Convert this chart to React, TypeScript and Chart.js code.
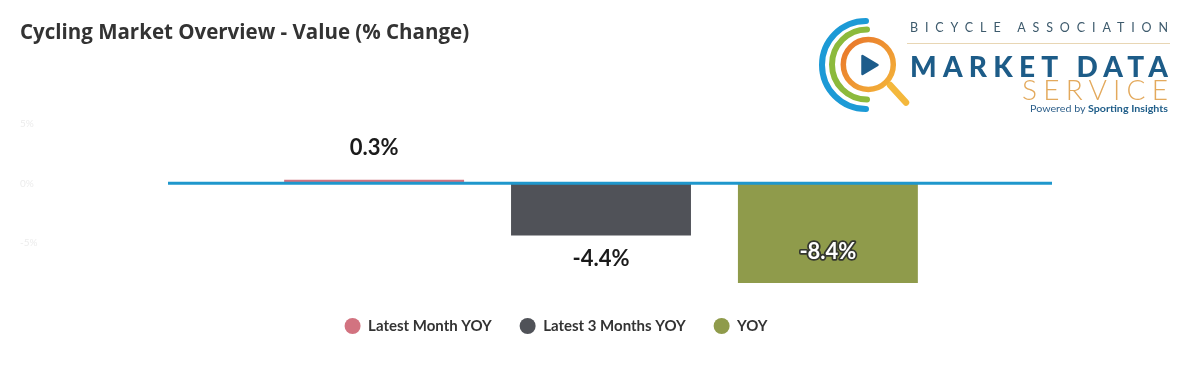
import React, { useEffect, useRef } from 'react';
import { Chart, registerables } from 'chart.js';

Chart.register(...registerables);

// ---- data ----
const categories = [''];
const seriesLabels = ['Latest Month YOY', 'Latest 3 Months YOY', 'YOY'];
const seriesValues = [0.3, -4.4, -8.4];
const seriesColors = ['#d27380', '#505258', '#8f9b4b'];
const yTickValues = [5, 0, -5, -10];
const yTickLabels = ['5%', '0%', '-5%', '-10%'];
const titleText = 'Cycling Market Overview - Value (% Change)';

const ZERO_LINE_EXTEND = 18;

const zeroLinePlugin = {
  id: 'zeroLine',
  afterDatasetsDraw(chart: any) {
    const { ctx, chartArea } = chart;
    const y = chart.scales.y.getPixelForValue(0);
    ctx.save();
    ctx.strokeStyle = '#1f97cc';
    ctx.lineWidth = 3;
    ctx.beginPath();
    ctx.moveTo(chartArea.left, y);
    ctx.lineTo(chartArea.right + ZERO_LINE_EXTEND, y);
    ctx.stroke();
    ctx.restore();
  },
};

const valueLabelPlugin = {
  id: 'valueLabels',
  afterDatasetsDraw(chart: any) {
    const { ctx, chartArea } = chart;
    ctx.save();
    ctx.font = 'bold 22px Lato';
    ctx.textAlign = 'center';
    ctx.textBaseline = 'middle';
    chart.data.datasets.forEach((ds: any, i: number) => {
      const meta = chart.getDatasetMeta(i);
      meta.data.forEach((bar: any, j: number) => {
        const v = ds.data[j] as number;
        const { x, y, base } = bar.getProps(['x', 'y', 'base'], true);
        const top = Math.min(y, base);
        const bottom = Math.max(y, base);
        const text = `${v.toFixed(1)}%`;
        let ty: number;
        let inside = false;
        if (v >= 0) ty = top - 32;
        else if (bottom + 35 <= chartArea.bottom) ty = bottom + 23;
        else {
          ty = bottom - 31;
          inside = true;
        }
        if (inside) {
          ctx.lineWidth = 3.5;
          ctx.lineJoin = 'round';
          ctx.strokeStyle = '#34372e';
          ctx.strokeText(text, x, ty);
          ctx.fillStyle = '#ffffff';
        } else {
          ctx.fillStyle = '#1a1a1a';
        }
        ctx.fillText(text, x, ty);
      });
    });
    ctx.restore();
  },
};

function Logo() {
  return (
    <svg
      width={400}
      height={120}
      viewBox="0 0 400 120"
      style={{ position: 'absolute', left: 792, top: -8 }}
    >
      <defs>
        <linearGradient id="lensGrad" x1="0" y1="0" x2="1" y2="1">
          <stop offset="0" stopColor="#e8742a" />
          <stop offset="1" stopColor="#f4b43a" />
        </linearGradient>
      </defs>
      <path d="M 66 21 A 44 44 0 0 0 66 109" fill="none" stroke="#1c9ad6" strokeWidth={6} strokeLinecap="round" />
      <path d="M 67 29.5 A 35 35 0 0 0 67 99.5" fill="none" stroke="#8cba3c" strokeWidth={6} strokeLinecap="round" />
      <line x1={90} y1={85} x2={106} y2={102.5} stroke="#f4b83c" strokeWidth={6.5} strokeLinecap="round" />
      <circle cx={68.3} cy={64.5} r={25} fill="#ffffff" stroke="url(#lensGrad)" strokeWidth={5.5} />
      <polygon points="62.5,56 62.5,74 77.5,65" fill="#1d5c8b" stroke="#1d5c8b" strokeWidth={2.5} strokeLinejoin="round" />
      <text x={110} y={32} fontFamily="Lato" fontSize={12.5} fontWeight={400} fill="#3d5a6c" textLength={258} lengthAdjust="spacing">
        BICYCLE ASSOCIATION
      </text>
      <line x1={107} y1={43.5} x2={370} y2={43.5} stroke="#e8d6b4" strokeWidth={1} />
      <text x={110} y={77} fontFamily="Lato" fontSize={28} fontWeight={900} fill="#1d5c88" textLength={258} lengthAdjust="spacing">
        MARKET DATA
      </text>
      <text x={222} y={100} fontFamily="Lato" fontSize={28} fontWeight={300} fill="#e3a95c" textLength={146} lengthAdjust="spacing">
        SERVICE
      </text>
      <text x={230} y={112} fontFamily="Lato" fontSize={10} fill="#2d5f8a" textLength={138} lengthAdjust="spacingAndGlyphs">
        Powered by <tspan fontWeight={700} fill="#1d5c88">Sporting Insights</tspan>
      </text>
    </svg>
  );
}

export default function App() {
  const canvasRef = useRef<HTMLCanvasElement | null>(null);

  useEffect(() => {
    if (!canvasRef.current) return;
    const chart = new Chart(canvasRef.current, {
      type: 'bar',
      data: {
        labels: categories,
        datasets: seriesLabels.map((label, i) => ({
          label,
          data: [seriesValues[i]],
          backgroundColor: seriesColors[i],
          borderWidth: 0,
          categoryPercentage: 0.786,
          barPercentage: 0.793,
        })),
      },
      options: {
        responsive: false,
        animation: false,
        layout: { padding: { left: 12, right: 0, top: 0, bottom: 0 } },
        plugins: {
          title: {
            display: true,
            text: titleText,
            align: 'start',
            color: '#333333',
            font: { family: 'Open Sans', size: 20.5, weight: 'bold' },
            padding: { top: 12.5, bottom: 79 },
          },
          legend: {
            position: 'bottom',
            labels: {
              boxWidth: 16,
              boxHeight: 16,
              useBorderRadius: true,
              borderRadius: 8,
              padding: 28,
              color: '#333333',
              font: { family: 'Lato', size: 15, weight: 'bold' },
            },
          },
          tooltip: { enabled: false },
        },
        scales: {
          x: { display: false },
          y: {
            min: -9,
            max: 5,
            afterFit: (s: any) => {
              s.width = 148;
            },
            afterBuildTicks: (s: any) => {
              s.ticks = yTickValues
                .filter((v) => v >= s.min && v <= s.max)
                .map((v) => ({ value: v }));
            },
            ticks: {
              crossAlign: 'far',
              color: '#ececec',
              font: { family: 'Lato', size: 10 },
              callback: (v: any) => {
                const idx = yTickValues.indexOf(Number(v));
                return idx >= 0 ? yTickLabels[idx] : '';
              },
            },
            grid: { display: false },
            border: { display: false },
          },
          y2: {
            position: 'right',
            display: true,
            afterFit: (s: any) => {
              s.width = 58;
            },
            ticks: { display: false },
            grid: { display: false },
            border: { display: false },
          },
        },
      } as any,
      plugins: [zeroLinePlugin, valueLabelPlugin],
    });
    return () => chart.destroy();
  }, []);

  return (
    <div style={{ position: 'relative', width: 1184, height: 350, overflow: 'hidden' }}>
      <canvas ref={canvasRef} width={1084} height={336} style={{ display: 'block' }} />
      <Logo />
    </div>
  );
}
